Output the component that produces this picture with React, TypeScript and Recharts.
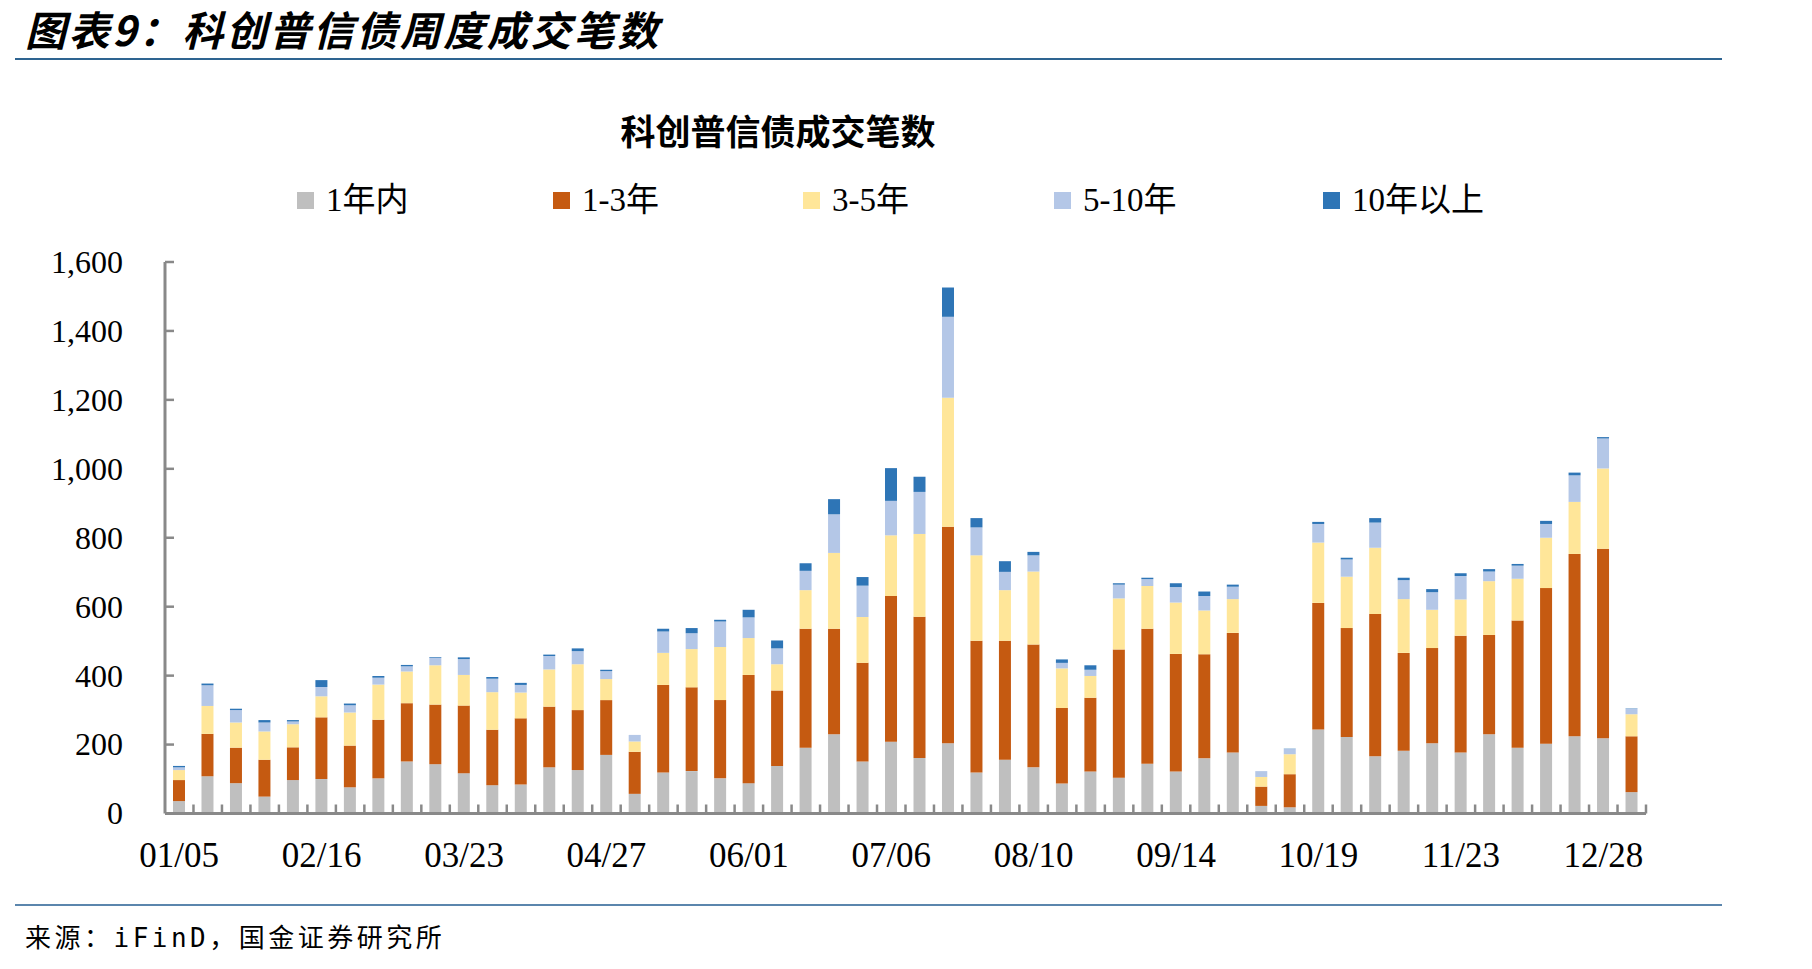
import React from 'react';
import { BarChart, Bar, XAxis, YAxis, Legend } from 'recharts';

const DATES = [
  '01/05', '01/12', '01/19', '01/26', '02/09', '02/16', '02/23', '03/02', '03/09', '03/16',
  '03/23', '03/30', '04/06', '04/13', '04/20', '04/27', '05/04', '05/11', '05/18', '05/25',
  '06/01', '06/08', '06/15', '06/22', '06/29', '07/06', '07/13', '07/20', '07/27', '08/03',
  '08/10', '08/17', '08/24', '08/31', '09/07', '09/14', '09/21', '09/28', '10/05', '10/12',
  '10/19', '10/26', '11/02', '11/09', '11/16', '11/23', '11/30', '12/07', '12/14', '12/21',
  '12/28', '01/04',
];

const SERIES_NAMES = ['1年内', '1-3年', '3-5年', '5-10年', '10年以上'];
const SERIES_COLORS = ['#BFBFBF', '#C55A11', '#FFE699', '#B4C7E7', '#2E75B6'];

const WITHIN_1Y = [
  36, 108, 88, 49, 97, 100, 76, 102, 151, 143,
  117, 82, 84, 134, 126, 170, 57, 119, 123, 102,
  88, 138, 191, 230, 151, 208, 161, 204, 119, 156,
  134, 87, 122, 104, 144, 122, 160, 177, 22, 18,
  244, 222, 166, 182, 204, 177, 230, 191, 202, 224,
  218, 62,
];
const Y1_3 = [
  61, 123, 103, 107, 95, 179, 121, 170, 169, 173,
  196, 161, 192, 176, 174, 159, 122, 254, 243, 227,
  314, 219, 345, 306, 286, 423, 410, 628, 382, 345,
  356, 219, 214, 372, 392, 341, 302, 347, 56, 96,
  367, 316, 413, 284, 276, 339, 288, 369, 452, 529,
  550, 162,
];
const Y3_5 = [
  29, 81, 73, 82, 67, 61, 96, 102, 92, 114,
  89, 109, 75, 108, 133, 61, 30, 93, 111, 154,
  107, 76, 112, 220, 133, 176, 240, 374, 248, 147,
  212, 115, 63, 148, 124, 149, 127, 98, 28, 58,
  175, 149, 192, 156, 111, 105, 156, 121, 146, 151,
  233, 64,
];
const Y5_10 = [
  8, 60, 36, 26, 8, 27, 21, 20, 15, 22,
  46, 39, 22, 39, 38, 23, 19, 62, 46, 74,
  60, 46, 56, 112, 91, 100, 122, 235, 81, 53,
  47, 16, 18, 40, 20, 45, 42, 36, 17, 15,
  54, 50, 73, 55, 51, 68, 28, 38, 40, 77,
  87, 16,
];
const OVER_10 = [
  4, 5, 4, 7, 4, 20, 5, 5, 4, 2,
  5, 5, 6, 4, 8, 4, 0, 8, 15, 5,
  22, 23, 22, 44, 25, 95, 44, 85, 27, 31,
  10, 10, 13, 4, 4, 11, 13, 6, 0, 1,
  6, 5, 13, 7, 9, 8, 7, 5, 9, 8,
  4, 1,
];

const Y_TICKS = [0, 200, 400, 600, 800, 1000, 1200, 1400, 1600];
const X_LABEL_EVERY = 5;

const SERIES_KEYS = ['s0', 's1', 's2', 's3', 's4'];
const SERIES_VALUES = [WITHIN_1Y, Y1_3, Y3_5, Y5_10, OVER_10];

const data = DATES.map((date, i) => {
  const row: Record<string, string | number> = { date };
  SERIES_KEYS.forEach((k, j) => {
    row[k] = SERIES_VALUES[j][i];
  });
  return row;
});

const AXIS_COLOR = '#898989';
const SERIF = "'Liberation Serif', 'Times New Roman', 'Noto Sans CJK SC', serif";

const XTick = (props: any) => {
  const { x, y, payload, index } = props;
  const half = payload && typeof payload.offset === 'number' && payload.offset > 0 ? payload.offset : 14.24;
  const idx = typeof index === 'number' ? index : payload.index;
  return (
    <g>
      <line x1={x + half} x2={x + half} y1={y} y2={y - 9} stroke={AXIS_COLOR} strokeWidth={2.5} />
      {idx % X_LABEL_EVERY === 0 && (
        <text x={x} y={y + 53} textAnchor="middle" fontFamily={SERIF} fontSize={35} fill="#000">
          {payload.value}
        </text>
      )}
    </g>
  );
};

const YTick = (props: any) => {
  const { x, y, payload } = props;
  return (
    <g>
      <line x1={x} x2={x + 9} y1={y} y2={y} stroke={AXIS_COLOR} strokeWidth={2.5} />
      <text x={x - 42} y={y} dy="0.34em" textAnchor="end" fontFamily={SERIF} fontSize={32} fill="#000">
        {Number(payload.value).toLocaleString('en-US')}
      </text>
    </g>
  );
};

const LEGEND_X = [297, 553, 803, 1054, 1323];

const renderLegend = () => (
  <div style={{ position: 'relative', width: 1812, height: 40 }}>
    {SERIES_NAMES.map((name, i) => (
      <div
        key={name}
        style={{
          position: 'absolute',
          left: LEGEND_X[i],
          top: 0,
          height: 40,
          display: 'flex',
          alignItems: 'center',
          whiteSpace: 'nowrap',
        }}
      >
        <span style={{ display: 'inline-block', width: 17, height: 17, background: SERIES_COLORS[i], marginRight: 12 }} />
        <span style={{ fontFamily: SERIF, fontSize: 33, color: '#000', lineHeight: '40px' }}>{name}</span>
      </div>
    ))}
  </div>
);

export default function App() {
  return (
    <div style={{ position: 'absolute', left: 0, top: 0, width: 1812, height: 969, background: '#fff' }}>
      <div
        style={{
          position: 'absolute',
          left: 25,
          top: 3,
          width: 720,
          height: 50,
          fontFamily: "'Noto Sans CJK SC', sans-serif",
          fontWeight: 700,
          fontStyle: 'italic',
          fontSize: 41,
          lineHeight: '50px',
          letterSpacing: 2.5,
          color: '#000',
          whiteSpace: 'nowrap',
        }}
      >
        图表9：科创普信债周度成交笔数
      </div>
      <div style={{ position: 'absolute', left: 15, top: 58, width: 1707, height: 2, background: '#2E6491' }} />

      <div
        style={{
          position: 'absolute',
          left: 0,
          width: 1556,
          top: 110,
          textAlign: 'center',
          fontFamily: "'Noto Sans CJK SC', sans-serif",
          fontWeight: 700,
          fontSize: 35,
          lineHeight: '40px',
          color: '#000',
        }}
      >
        科创普信债成交笔数
      </div>

      <BarChart
        width={1812}
        height={969}
        data={data}
        margin={{ top: 262, right: 166, bottom: 125.5, left: 65 }}
        barSize={12}
        style={{ position: 'absolute', left: 0, top: 0 }}
      >
        <XAxis
          dataKey="date"
          height={30}
          interval={0}
          tickSize={0}
          tickMargin={0}
          tickLine={false}
          tick={<XTick />}
          axisLine={{ stroke: AXIS_COLOR, strokeWidth: 3 }}
        />
        <YAxis
          width={100}
          domain={[0, 1600]}
          ticks={Y_TICKS}
          interval={0}
          tickSize={0}
          tickMargin={0}
          tickLine={false}
          tick={<YTick />}
          axisLine={{ stroke: AXIS_COLOR, strokeWidth: 3 }}
        />
        <Legend
          verticalAlign="middle"
          align="center"
          layout="horizontal"
          content={renderLegend}
          wrapperStyle={{ left: 0, top: 180, width: 1812, height: 40 }}
        />
        {SERIES_KEYS.map((k, i) => (
          <Bar
            key={k}
            dataKey={k}
            name={SERIES_NAMES[i]}
            stackId="a"
            fill={SERIES_COLORS[i]}
            isAnimationActive={false}
          />
        ))}
      </BarChart>

      <div style={{ position: 'absolute', left: 15, top: 904, width: 1707, height: 2, background: '#5B86AD' }} />
      <div
        style={{
          position: 'absolute',
          left: 25,
          top: 923,
          fontFamily: "'DejaVu Sans Mono', 'Noto Sans CJK SC', monospace",
          fontSize: 26,
          lineHeight: '30px',
          letterSpacing: 3.5,
          color: '#000',
          whiteSpace: 'nowrap',
        }}
      >
        来源：iFinD，国金证券研究所
      </div>
    </div>
  );
}
